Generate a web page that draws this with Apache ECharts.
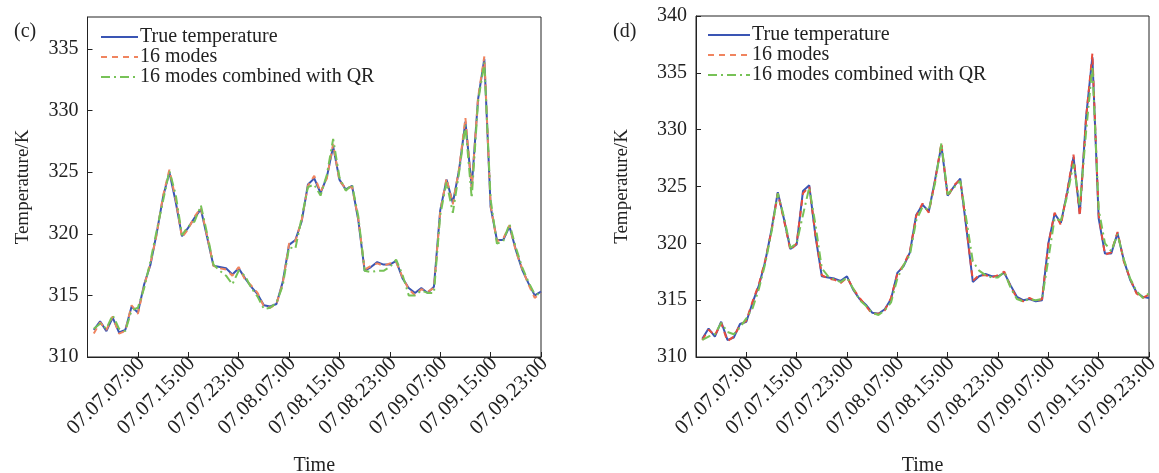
<!DOCTYPE html>
<html><head><meta charset="utf-8">
<script src="https://cdn.jsdelivr.net/npm/echarts@6/dist/echarts.min.js"></script>
<style>html,body{margin:0;padding:0;background:#fff}#c{width:1159px;height:473px}</style>
</head><body><div id="c"></div>
<script>
// x positions: hours after 07.06.23:00
const hours = Array.from({length: 72}, (_, i) => i + 1);
const tickLabels = ['07.07.07:00','07.07.15:00','07.07.23:00','07.08.07:00','07.08.15:00','07.08.23:00','07.09.07:00','07.09.15:00','07.09.23:00'];
const seriesNames = ['True temperature', '16 modes', '16 modes combined with QR'];

// Panel (c)
const cTrue = [312.2,312.9,312.1,313.2,312.0,312.2,314.1,313.6,315.9,317.5,320.1,323.0,325.0,322.6,319.8,320.5,321.3,322.0,319.7,317.4,317.3,317.2,316.7,317.2,316.4,315.7,315.1,314.2,314.1,314.3,316.1,319.1,319.5,321.0,324.0,324.5,323.3,324.6,327.1,324.4,323.6,323.9,321.1,317.0,317.3,317.7,317.5,317.5,317.8,316.4,315.6,315.2,315.6,315.2,315.7,321.9,324.4,322.5,325.2,329.1,323.8,330.9,334.2,322.2,319.5,319.5,320.6,318.7,317.1,316.0,315.0,315.3];
const cModes = [311.9,312.8,312.2,313.3,311.9,312.1,314.2,313.5,315.8,317.6,320.0,323.1,325.2,322.8,319.7,320.4,321.4,322.1,319.8,317.4,317.2,317.1,316.6,317.3,316.3,315.8,315.2,314.1,314.0,314.3,316.0,319.2,319.4,321.1,323.9,324.7,323.4,324.5,327.3,324.3,323.7,323.8,321.2,317.1,317.4,317.6,317.4,317.6,317.7,316.5,315.5,315.0,315.5,315.3,315.6,321.8,324.5,322.4,325.3,329.4,323.7,331.0,334.4,322.3,319.4,319.6,320.7,318.6,317.2,315.9,314.8,315.2];
const cQR = [312.3,312.7,312.3,313.4,312.3,312.1,313.8,314.0,315.6,317.8,320.3,322.7,325.1,323.2,319.9,320.6,321.0,322.3,320.0,317.5,317.0,316.6,315.9,317.0,316.6,315.6,314.9,313.9,314.0,314.4,315.8,318.9,318.8,321.3,323.8,324.0,323.1,324.8,327.7,324.6,323.5,324.0,321.4,317.0,316.9,317.0,317.0,317.3,317.9,316.7,315.0,315.0,315.4,315.2,315.2,321.5,324.2,321.7,325.0,328.8,322.9,330.7,333.9,322.8,319.2,319.4,320.8,318.9,317.3,316.1,315.1,315.1];

// Panel (d)
const dTrue = [311.6,312.5,311.8,313.1,311.5,311.7,312.9,313.1,314.8,316.3,318.4,321.2,324.5,322.1,319.5,319.9,324.6,325.1,320.6,317.1,317.0,316.9,316.7,317.1,315.9,315.1,314.6,313.9,313.8,314.2,315.1,317.4,318.0,319.2,322.5,323.4,322.8,325.6,328.6,324.2,325.0,325.7,321.2,316.6,317.1,317.3,317.1,317.1,317.4,316.3,315.3,315.0,315.1,314.9,315.0,320.0,322.6,321.8,324.5,327.6,322.6,331.1,336.4,322.2,319.1,319.1,320.9,318.5,316.8,315.7,315.3,315.2];
const dModes = [311.5,312.4,311.9,313.0,311.4,311.8,312.8,313.2,314.9,316.4,318.5,321.1,324.4,322.0,319.4,320.0,324.4,325.0,320.7,317.2,316.9,316.8,316.5,317.0,316.0,315.2,314.5,313.8,313.8,314.1,315.2,317.3,318.1,319.3,322.4,323.5,322.7,325.5,328.8,324.1,325.1,325.6,321.3,316.7,317.2,317.2,317.0,317.2,317.5,316.2,315.2,314.9,315.2,314.9,315.1,319.9,322.7,321.6,324.6,327.8,322.4,331.0,336.7,322.5,319.0,319.2,321.0,318.4,316.9,315.6,315.2,315.5];
const dQR = [311.5,311.8,312.0,313.0,312.2,312.0,312.6,313.4,314.3,316.0,318.2,321.0,324.4,322.3,319.6,320.0,322.5,324.9,321.6,317.8,317.1,316.8,316.6,317.0,316.0,315.0,314.5,313.9,313.7,314.1,314.8,316.9,318.1,319.0,322.0,323.2,322.9,325.3,328.8,324.3,324.9,325.5,322.0,318.4,317.6,317.2,317.0,317.0,317.5,316.1,315.1,314.9,315.1,315.0,315.1,318.6,322.2,322.0,324.2,327.0,323.3,329.8,335.6,323.0,320.0,319.3,320.8,318.6,316.9,315.8,315.2,315.6];

const FONT = '"Liberation Serif", "Times New Roman", serif';
const pairs = arr => hours.map((h, i) => [h, arr[i]]);

function xAxis(gi) {
  return {
    type: 'value', gridIndex: gi, min: 0, max: 72, interval: 8,
    name: 'Time', nameLocation: 'middle', nameGap: 99,
    nameTextStyle: {fontFamily: FONT, fontSize: 20, color: '#222'},
    axisLine: {show: true, lineStyle: {color: '#222', width: 1}},
    axisTick: {show: true, inside: true, length: 5, lineStyle: {color: '#222'}},
    splitLine: {show: false},
    axisLabel: {rotate: 45, margin: 7, fontFamily: FONT, fontSize: 21, color: '#222', padding: [0, -5, 0, 0],
      formatter: v => (v > 0 && v % 8 === 0) ? tickLabels[v / 8 - 1] : ''}
  };
}
function yAxis(gi, max, gap) {
  return {
    type: 'value', gridIndex: gi, min: 310, max: max, interval: 5,
    name: 'Temperature/K', nameLocation: 'middle', nameGap: gap, nameRotate: 90,
    nameTextStyle: {fontFamily: FONT, fontSize: 19, color: '#222'},
    axisLine: {show: true, lineStyle: {color: '#222', width: 1}},
    axisTick: {show: true, inside: true, length: 5, lineStyle: {color: '#222'}},
    splitLine: {show: false},
    axisLabel: {margin: 9, fontFamily: FONT, fontSize: 20, color: '#222', showMaxLabel: max % 5 === 0,
      formatter: v => (Math.abs(v % 5) < 1e-6) ? String(v) : ''}
  };
}
function lines(gi, t, m, q, redColor) {
  return [
    {name: seriesNames[0], type: 'line', xAxisIndex: gi, yAxisIndex: gi, data: pairs(t), symbol: 'none',
      lineStyle: {color: '#3a55b4', width: 2}, itemStyle: {color: '#3a55b4', opacity: 0}, z: 2},
    {name: seriesNames[1], type: 'line', xAxisIndex: gi, yAxisIndex: gi, data: pairs(m), symbol: 'none',
      lineStyle: {color: redColor, width: 2, type: [6, 5]}, itemStyle: {color: redColor, opacity: 0}, z: 3},
    {name: seriesNames[2], type: 'line', xAxisIndex: gi, yAxisIndex: gi, data: pairs(q), symbol: 'none',
      lineStyle: {color: '#77c257', width: 2, type: [9, 4, 2, 4]}, itemStyle: {color: '#77c257', opacity: 0}, z: 4}
  ];
}
function legend(left, top, w) {
  return {
    orient: 'vertical', left: left, top: top, itemWidth: w, itemHeight: 10, itemGap: 0, padding: 0,
    selectedMode: false,
    itemStyle: {opacity: 0},
    textStyle: {fontFamily: FONT, fontSize: 20, color: '#222', padding: [0, 0, 0, -3], lineHeight: 19, height: 19},
    data: seriesNames.map(n => ({name: n})),
  };
}

const chart = echarts.init(document.getElementById('c'), null, {renderer: 'canvas'});
const series = [].concat(lines(0, cTrue, cModes, cQR, '#f0845f'), lines(1, dTrue, dModes, dQR, '#e84c3d'));
chart.setOption({
  animation: false,
  backgroundColor: '#fff',
  title: [
    {text: '(c)', left: 9, top: 17, textStyle: {fontFamily: FONT, fontSize: 20, fontWeight: 'normal', color: '#222'}},
    {text: '(d)', left: 608, top: 17, textStyle: {fontFamily: FONT, fontSize: 20, fontWeight: 'normal', color: '#222'}}
  ],
  grid: [
    {left: 87.5, top: 17, width: 453.5, height: 340, show: true, borderColor: '#222', borderWidth: 1,
      containLabel: false, outerBoundsMode: 'none'},
    {left: 696, top: 16, width: 453, height: 341, show: true, borderColor: '#222', borderWidth: 1,
      containLabel: false, outerBoundsMode: 'none'}
  ],
  xAxis: [xAxis(0), xAxis(1)],
  yAxis: [yAxis(0, 337.6, 55), yAxis(1, 340, 64)],
  legend: [legend(100, 27, 37), legend(707, 25, 42)],
  series: series
});
</script></body></html>
